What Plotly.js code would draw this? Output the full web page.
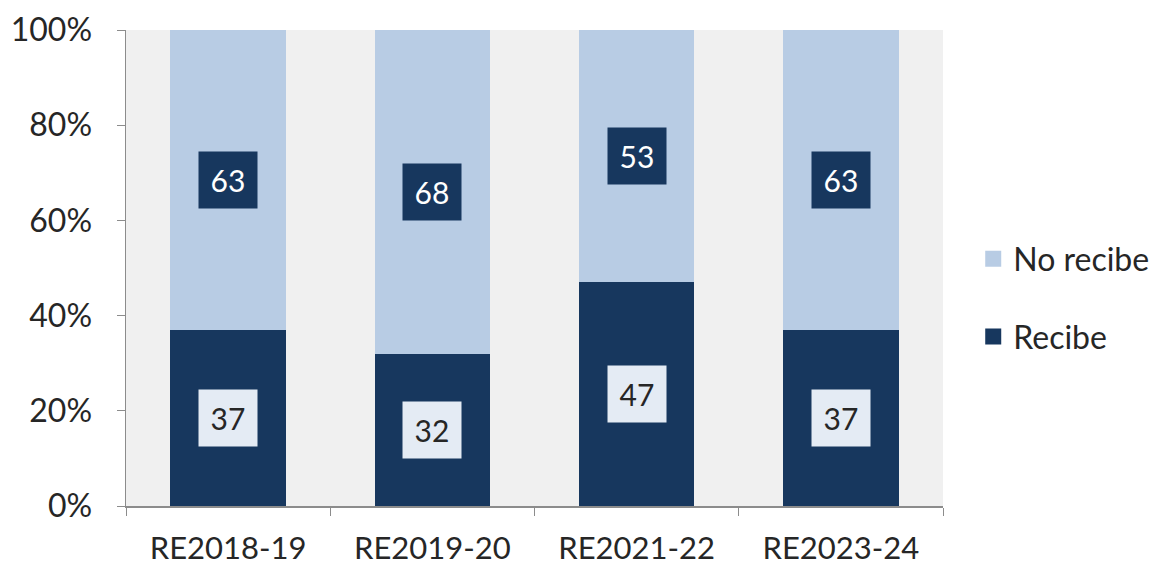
<!DOCTYPE html>
<html>
<head>
<meta charset="utf-8">
<script src="https://cdn.plot.ly/plotly-3.0.1.min.js"></script>
<style>html,body{margin:0;padding:0;background:#fff;}#chart{width:1166px;height:567px;}</style>
</head>
<body>
<div id="chart"></div>
<script>
const categories = ["RE2018-19", "RE2019-20", "RE2021-22", "RE2023-24"];
const recibe = [37, 32, 47, 37];
const noRecibe = [63, 68, 53, 63];
const yTicks = [0, 20, 40, 60, 80, 100];

const dark = "#17375e";
const light = "#b8cce4";
const fontFam = "Lato, 'Open Sans', sans-serif";
const txt = "#262626";

const traces = [
  {type: "bar", name: "Recibe", x: categories, y: recibe, marker: {color: dark}, showlegend: false, hoverinfo: "none"},
  {type: "bar", name: "No recibe", x: categories, y: noRecibe, marker: {color: light}, showlegend: false, hoverinfo: "none"},
  {type: "scatter", mode: "markers", name: "No recibe", x: [null], y: [null], marker: {symbol: "square", size: 16, color: light}, legendgroup: "a", legendrank: 1},
  {type: "scatter", mode: "markers", name: "Recibe", x: [null], y: [null], marker: {symbol: "square", size: 16, color: dark}, legendgroup: "b", legendrank: 2}
];

const annotations = [];
categories.forEach((c, i) => {
  annotations.push({x: c, y: recibe[i] / 2, xref: "x", yref: "y", text: String(recibe[i]), showarrow: false,
    font: {family: fontFam, size: 30, color: txt}, bgcolor: "#e4ebf4", borderpad: 7, width: 44, height: 42});
  annotations.push({x: c, y: recibe[i] + noRecibe[i] / 2, xref: "x", yref: "y", text: String(noRecibe[i]), showarrow: false,
    font: {family: fontFam, size: 30, color: "#fff"}, bgcolor: dark, borderpad: 7, width: 44, height: 42});
});

const layout = {
  width: 1166, height: 567,
  margin: {l: 126, r: 214, t: 30, b: 61},
  paper_bgcolor: "#fff", plot_bgcolor: "#f0f0f0",
  barmode: "stack", bargap: 0.435,
  showlegend: true,
  legend: {x: 1.037, y: 0.437, xanchor: "left", yanchor: "middle", traceorder: "grouped", tracegroupgap: 33,
    itemwidth: 30, font: {family: fontFam, size: 32, color: txt}},
  xaxis: {type: "category", showline: true, linecolor: "#8c8c8c", linewidth: 1.5, ticks: "outside", tickson: "boundaries",
    ticklen: 8, tickcolor: "#8c8c8c", ticklabelstandoff: 14, tickfont: {family: fontFam, size: 31, color: txt}, showgrid: false, zeroline: false, fixedrange: true},
  yaxis: {range: [0, 100], tickvals: yTicks, ticktext: yTicks.map(v => v + "%"), showline: true, linecolor: "#8c8c8c", linewidth: 1.5,
    ticks: "outside", ticklen: 8, tickcolor: "#8c8c8c", ticklabelstandoff: 18, tickfont: {family: fontFam, size: 32, color: txt}, showgrid: false, zeroline: false},
  annotations: annotations
};

Plotly.newPlot("chart", traces, layout, {staticPlot: true});
</script>
</body>
</html>
